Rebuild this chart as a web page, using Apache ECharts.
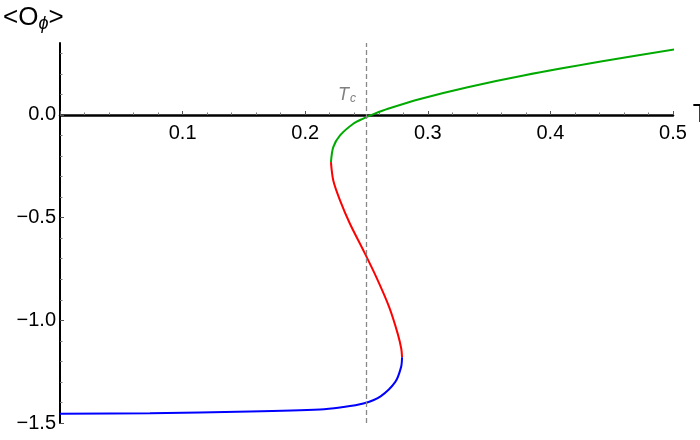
<!DOCTYPE html>
<html>
<head>
<meta charset="utf-8">
<script src="https://cdn.jsdelivr.net/npm/echarts@6/dist/echarts.min.js"></script>
<style>html,body{margin:0;padding:0;background:#fff}#c{width:700px;height:440px}</style>
</head>
<body>
<div id="c"></div>
<script>
// Upper branch, green  [T, <O>]
var greenBranch = [
  [0.502, 0.319], [0.4423, 0.261], [0.3781, 0.192], [0.3325, 0.135], [0.2945, 0.079],
  [0.2675, 0.030], [0.2567, 0.006], [0.2469, -0.019], [0.2392, -0.043], [0.2284, -0.100],
  [0.2229, -0.157], [0.2210, -0.230]
];
// Middle branch, red
var redBranch = [
  [0.2210, -0.230], [0.2229, -0.319], [0.2284, -0.416], [0.2365, -0.530], [0.2468, -0.652],
  [0.2580, -0.790], [0.2685, -0.936], [0.2755, -1.066], [0.2784, -1.140], [0.2790, -1.180]
];
// Lower branch, blue
var blueBranch = [
  [0.2790, -1.180], [0.2782, -1.228], [0.2735, -1.300], [0.2615, -1.370], [0.2474, -1.405],
  [0.2284, -1.424], [0.2121, -1.434], [0.155, -1.444], [0.0734, -1.452], [0.0, -1.455]
];
var Tc = 0.2474;
var yLabelValues = [-1.5, -1.0, -0.5, 0.0];
var yMinorValues = [-1.4, -1.3, -1.2, -1.1, -0.9, -0.8, -0.7, -0.6, -0.4, -0.3, -0.2, -0.1, 0.1, 0.2, 0.3];
var xTickLabels = ['0.1', '0.2', '0.3', '0.4', '0.5'];

var chart = echarts.init(document.getElementById('c'), null, {renderer: 'canvas'});
var font = 'Liberation Sans, Arial, sans-serif';
function fmtY(v) {
  var s = Math.abs(v).toFixed(1);
  return (v < 0 ? '\u2212' : '') + s;
}
chart.setOption({
  animation: false,
  grid: {left: 60, right: 27, top: 43, bottom: 17, containLabel: false, outerBoundsMode: 'none'},
  xAxis: {
    type: 'value', min: 0, max: 0.5, interval: 0.1,
    position: 'bottom', offset: -308,
    name: 'T', nameLocation: 'end', nameGap: 4,
    nameTextStyle: {fontFamily: font, fontSize: 25, color: '#000', verticalAlign: 'middle'},
    axisLine: {onZero: false, lineStyle: {color: '#000', width: 2.5}},
    axisTick: {show: true, inside: true, length: 4, lineStyle: {color: '#555', width: 1}},
    minorTick: {show: true, splitNumber: 5, length: 2.5, lineStyle: {color: '#777', width: 1}},
    axisLabel: {
      showMinLabel: false, fontFamily: font, fontSize: 20, color: '#000', margin: 8,
      formatter: function (v) { var i = Math.round(v * 10) - 1; return xTickLabels[i] || ''; }
    },
    splitLine: {show: false}, minorSplitLine: {show: false}
  },
  yAxis: [{
    type: 'value', min: -1.5, max: 0.35,
    axisLine: {onZero: false, lineStyle: {color: '#000', width: 2}},
    axisTick: {show: true, inside: true, length: 4, customValues: yLabelValues, lineStyle: {color: '#555', width: 1}},
    axisLabel: {customValues: yLabelValues, fontFamily: font, fontSize: 20, color: '#000', margin: 4, formatter: fmtY},
    splitLine: {show: false}
  }, {
    type: 'value', min: -1.5, max: 0.35, position: 'left',
    axisLine: {show: false},
    axisTick: {show: true, inside: true, length: 2.5, customValues: yMinorValues, lineStyle: {color: '#777', width: 1}},
    axisLabel: {show: false},
    splitLine: {show: false}
  }],
  graphic: [{
    type: 'text', left: 3, top: 5,
    style: {
      text: '<O{s|\u03D5}>',
      rich: {s: {fontFamily: font, fontSize: 18, fontStyle: 'italic', verticalAlign: 'bottom', padding: [12, 0, 0, 0]}},
      fontFamily: font, fontSize: 26, fill: '#000'
    }
  }, {
    type: 'text', left: 338, top: 86,
    style: {
      text: 'T{c|c}',
      rich: {c: {fontFamily: font, fontSize: 12, fontStyle: 'italic', fill: '#808080', padding: [8, 0, 0, 1]}},
      fontFamily: font, fontSize: 18, fontStyle: 'italic', fill: '#808080'
    }
  }],
  series: [{
    type: 'line', data: greenBranch, smooth: 0.3, showSymbol: false,
    lineStyle: {color: '#00aa00', width: 2}, z: 3,
    markLine: {
      silent: true, symbol: ['none', 'none'], label: {show: false},
      lineStyle: {color: '#888', type: [5, 3], width: 1.3},
      data: [{xAxis: Tc}]
    }
  }, {
    type: 'line', data: redBranch, smooth: 0.3, showSymbol: false,
    lineStyle: {color: '#ff0000', width: 2}, z: 3
  }, {
    type: 'line', data: blueBranch, smooth: 0.3, showSymbol: false,
    lineStyle: {color: '#0000ff', width: 2}, z: 3
  }]
});
</script>
</body>
</html>
